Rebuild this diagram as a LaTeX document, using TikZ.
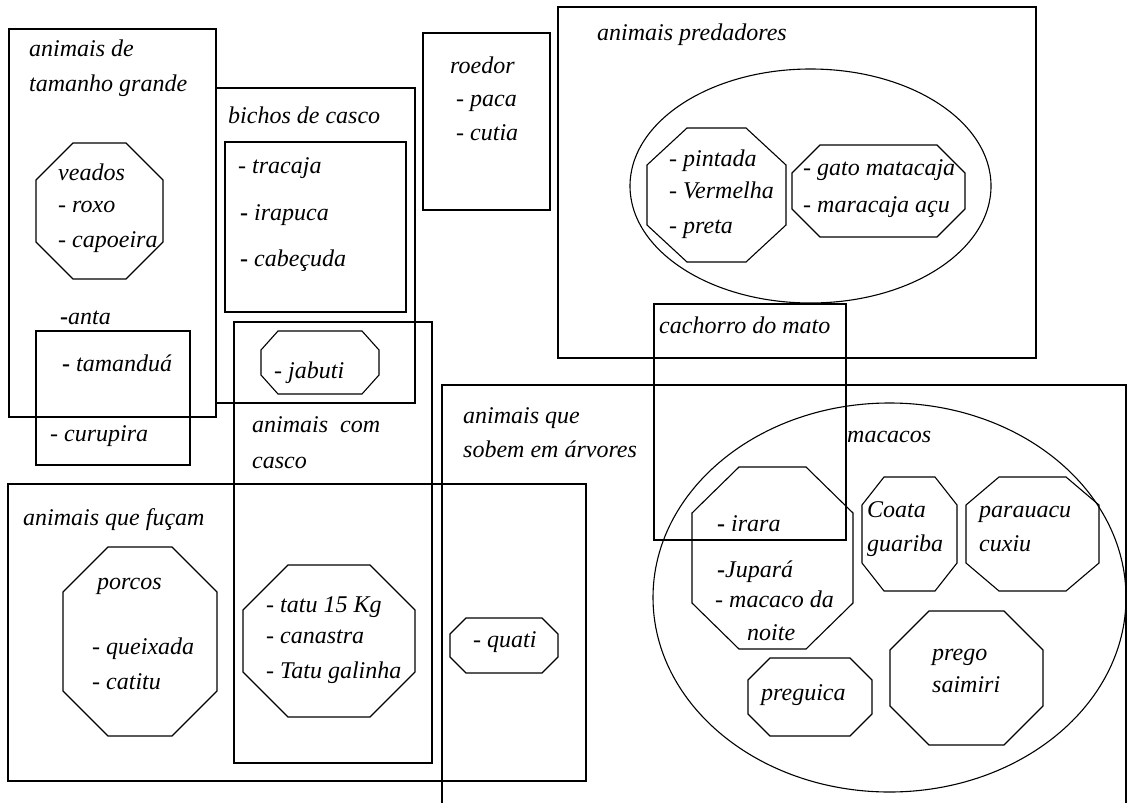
\documentclass[tikz,border=0pt]{standalone}
\usepackage{fontspec}
\setmainfont{Liberation Serif}

\tikzset{
  grp/.style={draw, line width=1.2pt},
  oct/.style={draw, line width=1.1pt},
  lbl/.style={anchor=base west, inner sep=0pt, font=\fontsize{24}{34}\selectfont\itshape},
}
% octagon from its corners (x1,y1) (x2,y2), with horizontal and vertical cut
\newcommand{\octo}[6]{%
  \draw[oct] (#1+#5,#2) -- (#3-#5,#2) -- (#3,#2+#6) -- (#3,#4-#6)
    -- (#3-#5,#4) -- (#1+#5,#4) -- (#1,#4-#6) -- (#1,#2+#6) -- cycle;}
\newcommand{\bdash}{{\upshape\bfseries -}}

\begin{document}
\begin{tikzpicture}[x=1pt, y=-1pt]
  \useasboundingbox (0,0) rectangle (1127,803);
  % groups
  \draw[grp] (9,29) rectangle (216,417);
  \draw[grp] (36,331) rectangle (190,465);
  \draw[grp] (216,88) rectangle (415,403);
  \draw[grp] (225,142) rectangle (406,312);
  \draw[grp] (234,322) rectangle (432,763);
  \draw[grp] (423,33) rectangle (550,210);
  \draw[grp] (558,7) rectangle (1036,358);
  \draw[grp] (654,304) rectangle (846,540);
  \draw[grp] (442,803) -- (442,385) -- (1126,385) -- (1126,803);
  \draw[grp] (8,484) rectangle (586,781);
  \draw[oct] (810.5,186) ellipse [x radius=180.5, y radius=117];
  \draw[oct] (889.5,597.5) ellipse [x radius=236.5, y radius=194.5];
  % octagons
  \octo{36}{143}{163}{279}{37}{37}
  \octo{261}{331}{379}{394}{17}{19}
  \octo{647}{128}{786}{262}{40}{37}
  \octo{792}{145}{965}{237}{28}{28}
  \octo{63}{547}{217}{736}{45}{45}
  \octo{243}{565}{415}{717}{45}{45}
  \octo{450}{618}{558}{673}{16}{16}
  \octo{692}{467}{853}{649}{47}{46}
  \octo{862}{477}{957}{591}{22}{28}
  \octo{966}{477}{1099}{591}{33}{28}
  \octo{748}{658}{872}{736}{22}{22}
  \octo{890}{611}{1043}{745}{39}{39}
  % labels
  \node[lbl] (grande1) at (29,56) {animais de};
  \node[lbl] (grande2) at (29,91) {tamanho grande};
  \node[lbl] (veados) at (58,180) {veados};
  \node[lbl] (roxo) at (58,212) {- roxo};
  \node[lbl] (capoeira) at (58,247) {- capoeira};
  \node[lbl] (anta) at (60,324) {\bdash anta};
  \node[lbl] (tamandua) at (62,371) {\bdash\ tamanduá};
  \node[lbl] (curupira) at (50,441) {- curupira};
  \node[lbl] (bichos) at (228,123) {bichos de casco};
  \node[lbl] (tracaja) at (238,173) {- tracaja};
  \node[lbl] (irapuca) at (240,220) {\bdash\ irapuca};
  \node[lbl] (cabecuda) at (240,266) {\bdash\ cabeçuda};
  \node[lbl] (jabuti) at (274,378) {- jabuti};
  \node[lbl] (casco1) at (252,432) {animais\ \ com};
  \node[lbl] (casco2) at (252,468) {casco};
  \node[lbl] (roedor) at (450,73) {roedor};
  \node[lbl] (paca) at (456,106) {- paca};
  \node[lbl] (cutia) at (456,140) {- cutia};
  \node[lbl] (predadores) at (597,40) {animais predadores};
  \node[lbl] (pintada) at (669,166) {- pintada};
  \node[lbl] (vermelha) at (669,198) {- Vermelha};
  \node[lbl] (preta) at (669,233) {- preta};
  \node[lbl] (gato) at (803,175) {- gato matacaja};
  \node[lbl] (maracaja) at (803,212) {- maracaja açu};
  \node[lbl] (cachorro) at (659,333) {cachorro do mato};
  \node[lbl] (sobem1) at (463,423) {animais que};
  \node[lbl] (sobem2) at (463,457) {sobem em árvores};
  \node[lbl] (fucam) at (23,525) {animais que fuçam};
  \node[lbl] (porcos) at (97,589) {porcos};
  \node[lbl] (queixada) at (92,654) {- queixada};
  \node[lbl] (catitu) at (92,689) {- catitu};
  \node[lbl] (tatu) at (266,612) {- tatu 15 Kg};
  \node[lbl] (canastra) at (266,643) {- canastra};
  \node[lbl] (galinha) at (266,678) {- Tatu galinha};
  \node[lbl] (quati) at (473,647) {- quati};
  \node[lbl] (macacos) at (847,442) {macacos};
  \node[lbl] (irara) at (717,531) {\bdash\ irara};
  \node[lbl] (jupara) at (717,577) {\bdash Jupará};
  \node[lbl] (macaco) at (715,607) {- macaco da};
  \node[lbl] (noite) at (747,640) {noite};
  \node[lbl] (coata) at (867,517) {Coata};
  \node[lbl] (guariba) at (867,551) {guariba};
  \node[lbl] (parauacu) at (979,517) {parauacu};
  \node[lbl] (cuxiu) at (979,551) {cuxiu};
  \node[lbl] (preguica) at (761,700) {preguica};
  \node[lbl] (prego) at (932,660) {prego};
  \node[lbl] (saimiri) at (932,692) {saimiri};
\end{tikzpicture}
\end{document}
